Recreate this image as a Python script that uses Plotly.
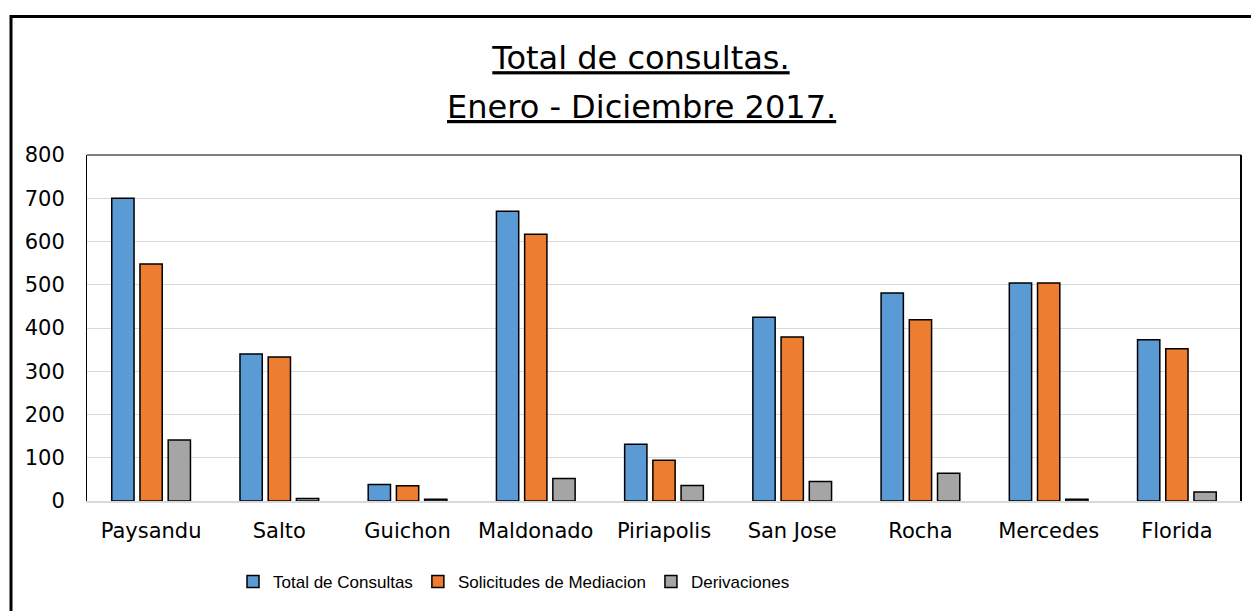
import plotly.graph_objects as go

categories = ["Paysandu", "Salto", "Guichon", "Maldonado", "Piriapolis",
              "San Jose", "Rocha", "Mercedes", "Florida"]
total_consultas = [700, 340, 38, 670, 131, 425, 481, 504, 373]
solicitudes_mediacion = [548, 333, 35, 617, 94, 379, 419, 504, 352]
derivaciones = [141, 6, 4, 52, 36, 45, 64, 4, 21]
y_ticks = [0, 100, 200, 300, 400, 500, 600, 700, 800]

series = [
    ("Total de Consultas", total_consultas, "#5B9BD5"),
    ("Solicitudes de Mediacion", solicitudes_mediacion, "#ED7D31"),
    ("Derivaciones", derivaciones, "#A5A5A5"),
]

OFF = 8  # page body margin
W, H = 1259 - OFF, 611 - OFF
# plot area in screen pixels: x 87..1241, y 155..502
L, T = 87 - OFF, 155 - OFF
R = W - (1241 - OFF)
B = H - (502 - OFF)
pw, ph = W - L - R, H - T - B

def sx(px):  # screen px -> paper x
    return (px - OFF - L) / pw

def sy(py):  # screen px -> paper y
    return (H - B - (py - OFF)) / ph

fig = go.Figure()
for name, vals, color in series:
    fig.add_trace(go.Bar(
        x=categories, y=vals, name=name,
        marker=dict(color=color, line=dict(color="black", width=1.5)),
    ))

fig.update_layout(
    width=W, height=H,
    margin=dict(l=L, r=R, t=T, b=B, pad=0),
    paper_bgcolor="white", plot_bgcolor="white",
    barmode="group", bargap=0.34, bargroupgap=0.21,
    font=dict(family="DejaVu Sans", color="black"),
    title=dict(
        text="<u>Total de consultas.</u>",
        font=dict(family="DejaVu Sans", size=32, color="black"),
        x=(641 - OFF) / W, xanchor="center", xref="container",
        y=1 - (58 - OFF) / H, yanchor="middle", yref="container",
    ),
    showlegend=True,
    legend=dict(
        orientation="h", x=sx(514), xanchor="center",
        y=sy(582), yanchor="middle",
        font=dict(family="Liberation Sans", size=17, color="black"),
        itemwidth=30, traceorder="normal", bgcolor="rgba(0,0,0,0)",
    ),
    xaxis=dict(
        showgrid=False, showline=True, linecolor="#d9d9d9", linewidth=2,
        ticks="", tickfont=dict(family="DejaVu Sans", size=21, color="black"),
        ticklabelstandoff=10, fixedrange=True,
    ),
    yaxis=dict(
        range=[0, 800], tickvals=y_ticks, showgrid=True, gridcolor="#d9d9d9",
        gridwidth=1, zeroline=False, showline=True, linecolor="black",
        linewidth=1, mirror=True, ticks="",
        tickfont=dict(family="DejaVu Sans", size=21, color="black"),
        ticklabelstandoff=17, fixedrange=True,
    ),
)

fig.add_annotation(
    text="<u>Enero - Diciembre 2017.</u>", xref="paper", yref="paper",
    x=sx(641), y=sy(107), xanchor="center", yanchor="middle",
    showarrow=False, font=dict(family="DejaVu Sans", size=32, color="black"),
)

# top border of plot area
fig.add_shape(type="line", xref="paper", yref="paper", x0=0, x1=1, y0=1, y1=1,
              line=dict(color="black", width=1))
# right border slightly thicker
fig.add_shape(type="line", xref="paper", yref="paper", x0=1, x1=1, y0=0, y1=1,
              line=dict(color="black", width=2))
# outer chart frame (cropped on right and bottom)
fig.add_shape(type="rect", xref="paper", yref="paper",
              x0=sx(11), x1=sx(1259 + 20),
              y0=sy(611 + 20), y1=sy(16),
              line=dict(color="black", width=3), fillcolor="rgba(0,0,0,0)",
              layer="above")

fig.write_html("out.html", config={"displayModeBar": False})
